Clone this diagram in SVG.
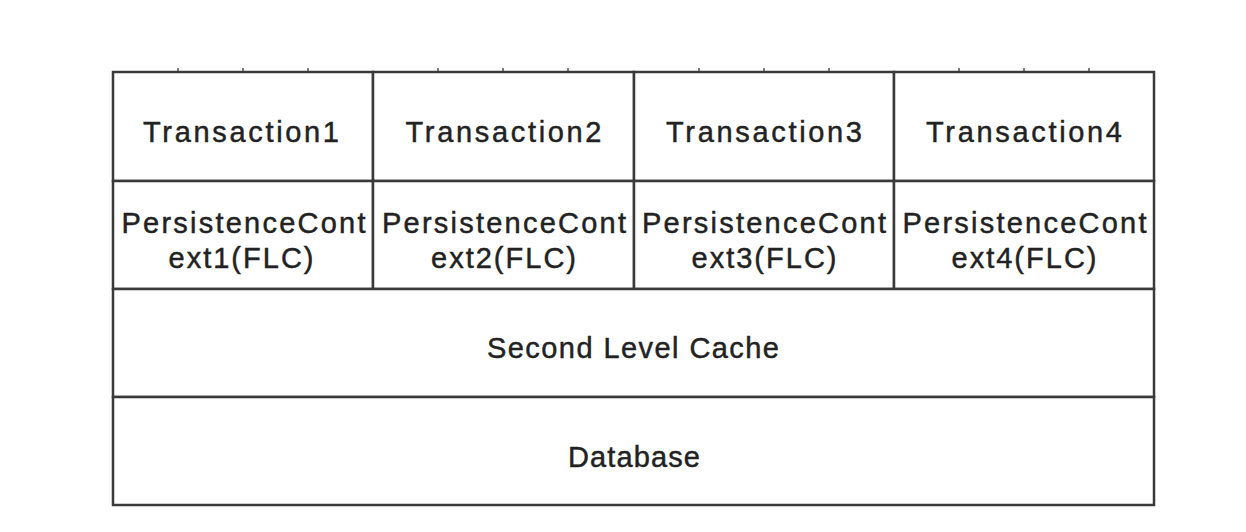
<svg xmlns="http://www.w3.org/2000/svg" width="1246" height="532" viewBox="0 0 1246 532">
<style>
.cell{fill:#ffffff;stroke:#3a3a3a;stroke-width:2.5}
.tick{stroke:#555;stroke-width:1.5}
.lbl{font-family:"Liberation Sans",Arial,Helvetica,sans-serif;font-size:29px;fill:#222222;stroke:#222222;stroke-width:0.45;text-anchor:middle}
</style>
<rect width="1246" height="532" fill="#ffffff"/>
<g id="ticks">
<line class="tick" x1="178" y1="68" x2="178" y2="72"/>
<line class="tick" x1="243" y1="68" x2="243" y2="72"/>
<line class="tick" x1="308" y1="68" x2="308" y2="72"/>
<line class="tick" x1="438" y1="68" x2="438" y2="72"/>
<line class="tick" x1="503" y1="68" x2="503" y2="72"/>
<line class="tick" x1="568" y1="68" x2="568" y2="72"/>
<line class="tick" x1="699" y1="68" x2="699" y2="72"/>
<line class="tick" x1="764" y1="68" x2="764" y2="72"/>
<line class="tick" x1="829" y1="68" x2="829" y2="72"/>
<line class="tick" x1="959" y1="68" x2="959" y2="72"/>
<line class="tick" x1="1024" y1="68" x2="1024" y2="72"/>
<line class="tick" x1="1089" y1="68" x2="1089" y2="72"/>
</g>
<g id="t1"><rect class="cell" x="113" y="72" width="260" height="109"/><text class="lbl" x="241" y="141.5" textLength="196" lengthAdjust="spacing">Transaction1</text></g>
<g id="t2"><rect class="cell" x="373" y="72" width="261" height="109"/><text class="lbl" x="503.5" y="141.5" textLength="196" lengthAdjust="spacing">Transaction2</text></g>
<g id="t3"><rect class="cell" x="634" y="72" width="260" height="109"/><text class="lbl" x="764" y="141.5" textLength="196" lengthAdjust="spacing">Transaction3</text></g>
<g id="t4"><rect class="cell" x="894" y="72" width="260" height="109"/><text class="lbl" x="1024" y="141.5" textLength="196" lengthAdjust="spacing">Transaction4</text></g>
<g id="pc1"><rect class="cell" x="113" y="181" width="260" height="108"/><text class="lbl"><tspan x="243.5" y="233" textLength="244" lengthAdjust="spacing">PersistenceCont</tspan><tspan x="241" y="268" textLength="145" lengthAdjust="spacing">ext1(FLC)</tspan></text></g>
<g id="pc2"><rect class="cell" x="373" y="181" width="261" height="108"/><text class="lbl"><tspan x="504" y="233" textLength="244" lengthAdjust="spacing">PersistenceCont</tspan><tspan x="503.5" y="268" textLength="145" lengthAdjust="spacing">ext2(FLC)</tspan></text></g>
<g id="pc3"><rect class="cell" x="634" y="181" width="260" height="108"/><text class="lbl"><tspan x="764" y="233" textLength="244" lengthAdjust="spacing">PersistenceCont</tspan><tspan x="764" y="268" textLength="145" lengthAdjust="spacing">ext3(FLC)</tspan></text></g>
<g id="pc4"><rect class="cell" x="894" y="181" width="260" height="108"/><text class="lbl"><tspan x="1024.5" y="233" textLength="244" lengthAdjust="spacing">PersistenceCont</tspan><tspan x="1024" y="268" textLength="145" lengthAdjust="spacing">ext4(FLC)</tspan></text></g>
<g id="slc"><rect class="cell" x="113" y="289" width="1041" height="108"/><text class="lbl" x="633" y="358" textLength="292" lengthAdjust="spacing">Second Level Cache</text></g>
<g id="db"><rect class="cell" x="113" y="397" width="1041" height="108"/><text class="lbl" x="634" y="467" textLength="132" lengthAdjust="spacing">Database</text></g>
<g id="connectors"></g>
</svg>
